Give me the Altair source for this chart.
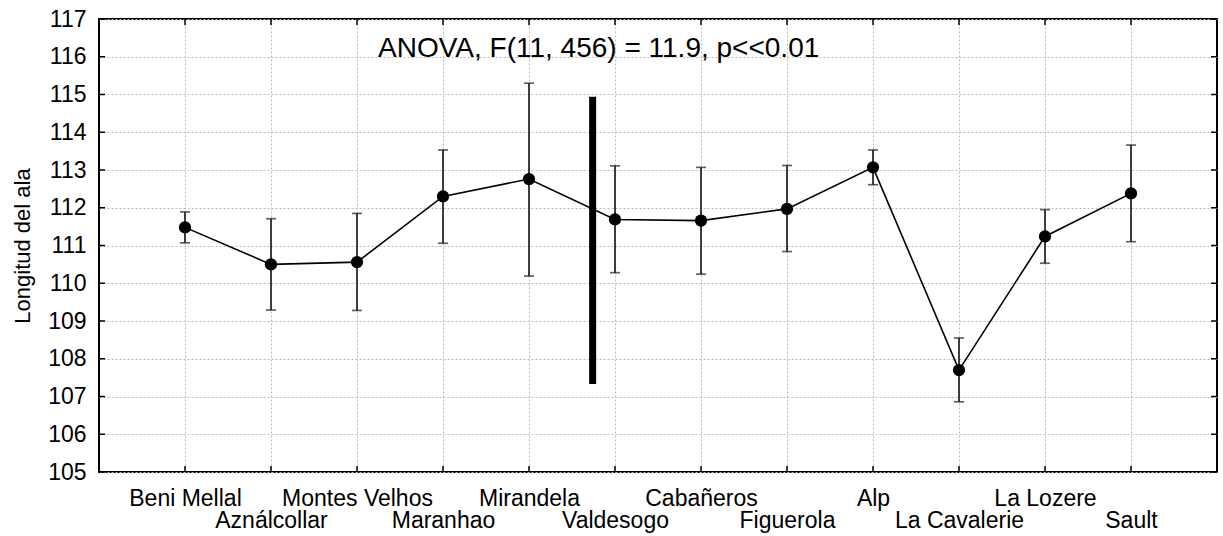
import json
import altair as alt
import pandas as pd

# ---- data ----
names = ["Beni Mellal", "Aználcollar", "Montes Velhos", "Maranhao", "Mirandela",
         "Valdesogo", "Cabañeros", "Figuerola", "Alp", "La Cavalerie", "La Lozere", "Sault"]
means = [111.48, 110.50, 110.56, 112.30, 112.76, 111.69, 111.66, 111.97, 113.07, 107.70, 111.24, 112.38]
upper = [111.89, 111.71, 111.85, 113.53, 115.30, 113.11, 113.07, 113.12, 113.53, 108.55, 111.95, 113.66]
lower = [111.07, 109.29, 109.28, 111.06, 110.19, 110.28, 110.24, 110.84, 112.61, 106.86, 110.53, 111.10]
y_ticks = list(range(105, 118))

# separator bar (between Mirandela and Valdesogo)
sep_x = [5.74]
sep_lo = [107.33]
sep_hi = [114.94]

# annotation
note_text = ["ANOVA, F(11, 456) = 11.9, p<<0.01"]
note_x = [5.81]
note_y = [116.0]

FONT = "Liberation Sans"
W, H = 1118, 453

df = pd.DataFrame({"idx": list(range(1, len(names) + 1)), "name": names,
                   "mean": means, "hi": upper, "lo": lower})
df_y = pd.DataFrame({"v": y_ticks})
df_sep = pd.DataFrame({"x": sep_x, "lo": sep_lo, "hi": sep_hi})
df_note = pd.DataFrame({"x": note_x, "y": note_y, "t": note_text})

label_arr = [""] + [n if i % 2 == 0 else ["", n] for i, n in enumerate(names)]
label_expr = json.dumps(label_arr, ensure_ascii=False) + "[datum.value]"

x_scale = alt.Scale(domain=[0, 13], nice=False, zero=False)
y_scale = alt.Scale(domain=[105, 117], nice=False, zero=False)

GRID = dict(grid=True, gridColor="#bdbdbd", gridDash=[2, 2], gridWidth=1, domain=False)

x_axis = alt.Axis(values=list(range(1, 13)), title=None, labelExpr=label_expr,
                  ticks=False, tickSize=0, labelPadding=33, labelBaseline="alphabetic",
                  labelLineHeight=22, labelFontSize=23, labelFont=FONT, labelColor="black",
                  labelOverlap=False, labelFlush=False, labelBound=False, **GRID)
y_axis = alt.Axis(values=y_ticks, title="Longitud del ala", ticks=False, tickSize=0,
                  labelPadding=13, labelFontSize=23, labelFont=FONT, labelColor="black",
                  labelFontWeight="normal", titleFontWeight="normal",
                  titleFont=FONT, titleFontSize=22, titleColor="black",
                  titleAngle=-90, titleX=-77, titleY=H / 2, titleAlign="center",
                  titleBaseline="middle", **GRID)


def X(f):
    return alt.X(f, type="quantitative", scale=x_scale, axis=x_axis)


def Y(f):
    return alt.Y(f, type="quantitative", scale=y_scale, axis=y_axis)


base = alt.Chart(df)

line = base.mark_line(color="black", strokeWidth=1.6).encode(x=X("idx"), y=Y("mean"))
err = base.mark_rule(color="#1e1e1e", strokeWidth=1.7).encode(x=X("idx"), y=Y("lo"), y2="hi")
cap_hi = base.mark_tick(color="#1e1e1e", orient="horizontal", size=10, thickness=1.7).encode(
    x=X("idx"), y=Y("hi"))
cap_lo = base.mark_tick(color="#1e1e1e", orient="horizontal", size=10, thickness=1.7).encode(
    x=X("idx"), y=Y("lo"))
pts = base.mark_circle(color="black", opacity=1, size=150).encode(x=X("idx"), y=Y("mean"))

# inward ticks
tick_b = base.mark_rule(color="black", strokeWidth=1.5).encode(
    x=X("idx"), y=alt.value(H - 6), y2=alt.value(H))
tick_t = base.mark_rule(color="black", strokeWidth=1.5).encode(
    x=X("idx"), y=alt.value(0), y2=alt.value(6))
tick_l = alt.Chart(df_y).mark_rule(color="black", strokeWidth=1.5).encode(
    y=Y("v"), x=alt.value(0), x2=alt.value(6))
tick_r = alt.Chart(df_y).mark_rule(color="black", strokeWidth=1.5).encode(
    y=Y("v"), x=alt.value(W - 6), x2=alt.value(W))

sep = alt.Chart(df_sep).mark_rule(color="black", strokeWidth=7, strokeCap="butt").encode(
    x=X("x"), y=Y("lo"), y2="hi")

note = alt.Chart(df_note).mark_text(font=FONT, fontSize=28, color="black",
                                    align="center", baseline="alphabetic").encode(
    x=X("x"), y=Y("y"), text="t:N")

chart = alt.layer(tick_b, tick_t, tick_l, tick_r, err, cap_hi, cap_lo, line, pts, sep, note).properties(
    width=W, height=H,
    autosize=alt.AutoSizeParams(type="none"),
    padding={"left": 99, "top": 19, "right": 6, "bottom": 64},
    background="white",
).configure_view(stroke="black", strokeWidth=2).configure_axis(labelFont=FONT)

chart.save("out.html", embed_options={"renderer": "svg", "actions": False})
